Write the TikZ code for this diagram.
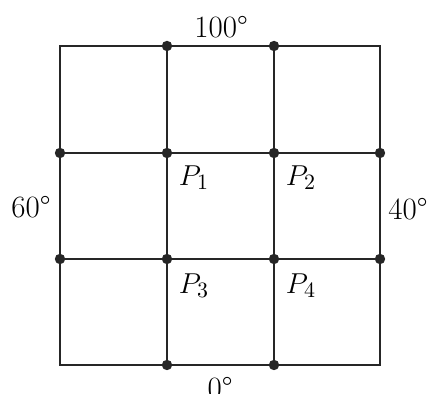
\documentclass[tikz,border=0pt]{standalone}
\begin{document}
\begin{tikzpicture}[x=0.5pt,y=-0.5pt,
  gridline/.style={line width=1pt,black!85},
  dot/.style={circle,fill=black!85,inner sep=0pt,minimum size=5.2pt},
  lab/.style={font=\fontsize{15.5}{18}\selectfont,inner sep=0pt}]
\useasboundingbox (0,0) rectangle (429,394);
\draw[gridline] (60,46) rectangle (380,365);
\foreach \x in {167,274} \draw[gridline] (\x,46) -- (\x,365);
\foreach \y in {153,259} \draw[gridline] (60,\y) -- (380,\y);
\foreach \n/\x/\y in {a/167/46,b/274/46,c/60/153,d/167/153,e/274/153,f/380/153,
  g/60/259,h/167/259,i/274/259,j/380/259,k/167/365,l/274/365}
  \node[dot] (\n) at (\x,\y) {};
\node[lab] (t) at (221,27) {100°};
\node[lab] (lft) at (31,207) {60°};
\node[lab] (rgt) at (408,209) {40°};
\node[lab] (bot) at (220,388) {0°};
\node[lab] (p1) at (194,178) {$P_1$};
\node[lab] (p2) at (301,178) {$P_2$};
\node[lab] (p3) at (194,286) {$P_3$};
\node[lab] (p4) at (301,286) {$P_4$};
\end{tikzpicture}
\end{document}
